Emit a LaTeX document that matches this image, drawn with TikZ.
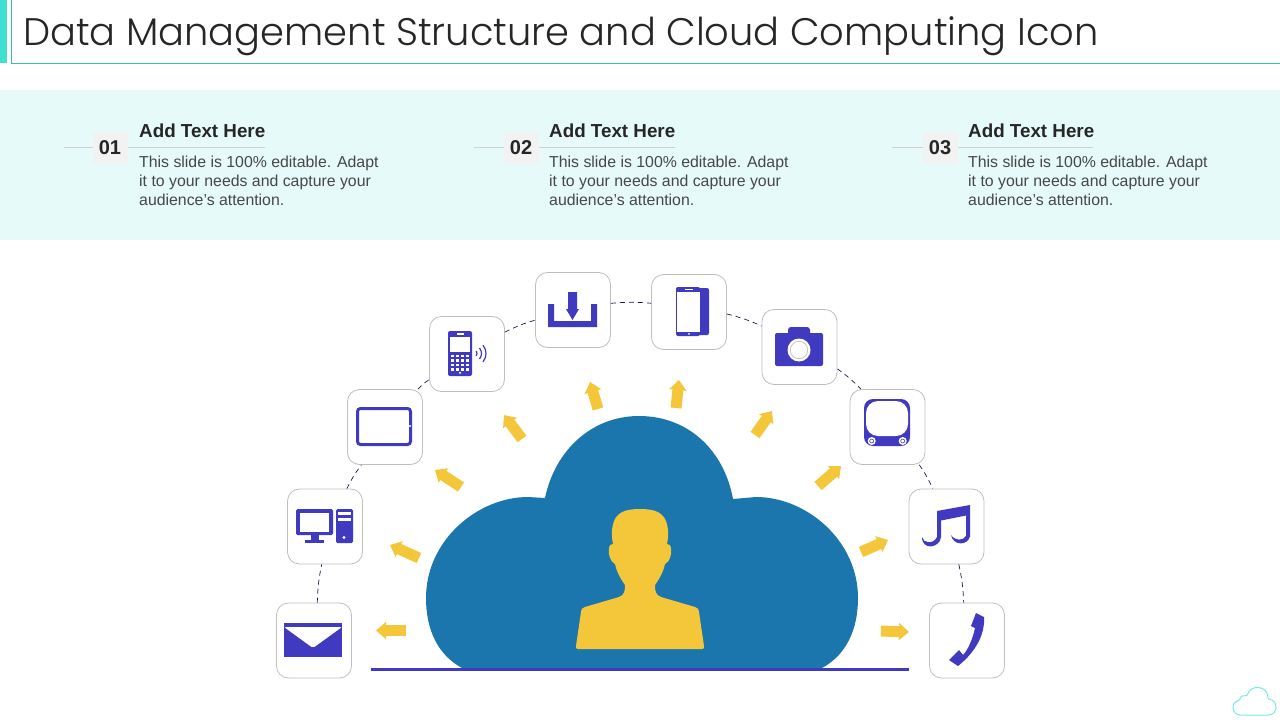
\documentclass[tikz,border=0pt]{standalone}
\usepackage{fontspec}
\setmainfont{Liberation Sans}
\newfontfamily\titlefont[UprightFont=* Light]{Poppins}
\usetikzlibrary{arrows.meta}
\definecolor{headbar}{HTML}{40E0D0}
\definecolor{band}{HTML}{E6FAF9}
\definecolor{cloudblue}{HTML}{1A76AD}
\definecolor{sun}{HTML}{F4C63A}
\definecolor{indigo}{HTML}{3F3ABF}
\tikzset{
  iconbox/.style={draw=black!25, fill=white, rounded corners=12pt, minimum width=75pt, minimum height=75pt, line width=0.8pt},
  dashlink/.style={draw=black!60!indigo, dash pattern=on 5pt off 4pt, line width=0.7pt},
  sunarrow/.style={draw=sun, line width=11pt, -{Stealth[width=17pt,length=10pt,inset=0.5pt]}},
  numbox/.style={fill=black!5, minimum width=35pt, minimum height=32pt, font=\bfseries\fontsize{20}{24}\selectfont, text=black!85},
  headtext/.style={anchor=west, inner sep=0pt, font=\bfseries\fontsize{18.8}{22}\selectfont, text=black!85},
  bodytext/.style={anchor=north west, inner sep=0pt, align=left, font=\fontsize{15.85}{19}\selectfont, text=black!72}
}
\begin{document}
\begin{tikzpicture}[yscale=-1, x=1pt, y=1pt]
    \useasboundingbox (0, 0) rectangle (1280, 720);
    % header
    \fill [headbar] (0, 0) rectangle (7, 63);
    \fill [headbar!85!black] (10.5, 0) rectangle (11.5, 63.5);
    \fill [headbar!85!black] (10.5, 63) rectangle (1280, 64);
    \node [anchor=base west, inner sep=0pt, text=black!85, font=\titlefont\fontsize{38.4}{46}\selectfont] (title) at (23, 45) {Data Management Structure and Cloud Computing Icon};
    % text band
    \fill [band] (0, 90) rectangle (1280, 240);
    \foreach \n/\xa/\xb/\xt in {01/64/110/139, 02/474/521/549, 03/892/940/968} {
        \coordinate (rulea\n) at (\xa, 147);
        \coordinate (ruleb\n) at (\xa+201, 147);
        \draw [black!18, line width=0.7pt] (rulea\n) -- (ruleb\n);
        \node [numbox] (num\n) at (\xb, 147.5) {\n};
        \node [headtext] (head\n) at (\xt, 131) {Add Text Here};
        \node [bodytext] (body\n) at (\xt, 156) {This slide is 100\% editable. Adapt\\it to your needs and capture your\\audience’s attention.};
    }
    % icon boxes
    \node [iconbox] (mail) at (314, 640.5) {};
    \node [iconbox] (desktop) at (325, 526.5) {};
    \node [iconbox] (tablet) at (385, 427) {};
    \node [iconbox] (mobile) at (467, 354) {};
    \node [iconbox] (download) at (573, 310) {};
    \node [iconbox] (smart) at (689, 312) {};
    \node [iconbox] (camera) at (799.5, 347) {};
    \node [iconbox] (screen) at (887.5, 427) {};
    \node [iconbox] (music) at (946.5, 526.5) {};
    \node [iconbox] (call) at (967, 640.5) {};
    % dashed arc
    \draw [dashlink] (mail.85) to [bend right=5] (desktop.-95);
    \draw [dashlink] (desktop.60) to [bend right=5] (tablet.-122);
    \draw [dashlink] (tablet.49) to [bend right=5] (mobile.214);
    \draw [dashlink] (mobile.30) to [bend right=5] (download.195);
    \draw [dashlink] (download.10) to [bend right=5] (smart.167);
    \draw [dashlink] (smart.-3) to [bend right=5] (camera.151);
    \draw [dashlink] (camera.-30) to [bend right=5] (screen.125);
    \draw [dashlink] (screen.-50) to [bend right=5] (music.110);
    \draw [dashlink] (music.-72) to [bend right=5] (call.95);
    % yellow arrows
    \foreach \xa/\ya/\xb/\yb in {406/630.5/376/630.5, 419/558/390/545, 461/487/435/470, 522/439/504/415, 598/409/590/382, 676/408/679/380, 755/435/772/411, 818/486/841/466, 861/552/888/540, 881/631/909/632} {
        \draw [sunarrow] (\xa, \ya) -- (\xb, \yb);
    }
    % cloud
    \fill [cloudblue] (462, 668) .. controls (438, 655) and (426, 630) .. (426, 598)
        .. controls (426, 540) and (478, 497) .. (528, 497) -- (545, 498)
        .. controls (555, 450) and (592, 416) .. (639, 416)
        .. controls (688, 416) and (724, 450) .. (733, 499) -- (756, 497)
        .. controls (806, 497) and (858, 540) .. (858, 598)
        .. controls (858, 630) and (846, 655) .. (822, 668) -- cycle;
    % ground line
    \draw [indigo, line width=3pt] (371, 669) -- (909, 669);
    % person
    \fill [sun, line join=round] (578, 649) .. controls (576, 649) and (576, 648) .. (576, 646)
        -- (581, 612) .. controls (581, 609) and (582, 608) .. (585, 607)
        -- (619, 597) .. controls (624, 595) and (625, 592) .. (625, 585)
        .. controls (620, 578) and (616, 570) .. (615, 564)
        .. controls (610, 562) and (608, 553) .. (609, 549)
        .. controls (609, 545) and (611, 544) .. (613, 544)
        .. controls (611, 535) and (612, 526) .. (614, 521)
        .. controls (618, 511) and (628, 509) .. (640, 509)
        .. controls (652, 509) and (662, 511) .. (666, 521)
        .. controls (668, 526) and (669, 535) .. (667, 544)
        .. controls (669, 544) and (671, 545) .. (671, 549)
        .. controls (672, 553) and (670, 562) .. (665, 564)
        .. controls (664, 570) and (660, 578) .. (655, 585)
        .. controls (655, 592) and (656, 595) .. (661, 597)
        -- (695, 607) .. controls (698, 608) and (699, 609) .. (699, 612)
        -- (704, 646) .. controls (704, 648) and (704, 649) .. (702, 649) -- cycle;
    % mail icon
    \fill [indigo] (284, 623) rectangle (342, 657);
    \fill [white, rounded corners=2pt] (284, 627) -- (342, 627) -- (313, 648) -- cycle;
    % desktop icon
    \fill [indigo, rounded corners=1.5pt] (296, 509) rectangle (333, 535);
    \fill [white] (300, 513) rectangle (329, 532);
    \fill [indigo] (311, 535) rectangle (319, 540);
    \fill [indigo] (305, 540) rectangle (324, 543);
    \fill [indigo, rounded corners=1.5pt] (336, 509) rectangle (353, 543);
    \fill [white] (338, 512) rectangle (351, 515);
    \fill [white] (338, 518) rectangle (351, 521);
    \fill [white] (344, 537.5) circle (1.6);
    % tablet icon
    \draw [indigo, line width=3pt, rounded corners=3pt] (357.5, 408.5) rectangle (410.5, 444.5);
    \fill [white] (410, 426) circle (1.2);
    % mobile icon
    \fill [indigo, rounded corners=2pt] (448, 331) rectangle (472, 376);
    \fill [white] (450, 337) rectangle (470, 352);
    \fill [white] (456.5, 333.3) rectangle (463.5, 334.7);
    \foreach \kx in {452.5, 457.5, 462.5, 467.5} {
        \foreach \ky in {356, 360.5, 365, 369.5} {
            \fill [white] (\kx-1.4, \ky-1.2) rectangle (\kx+1.4, \ky+1.2);
        }
    }
    \fill [white] (460, 372.8) circle (1.2);
    \foreach \r in {4, 8.5, 13} {
        \draw [indigo, line width=1.2pt] ({473+\r*cos(40)}, {353.5-\r*sin(40)}) arc (-40:40:\r);
    }
    % download icon
    \fill [indigo] (548, 304) -- (554, 304) -- (554, 321) -- (591, 321) -- (591, 304) -- (597, 304) -- (597, 327) -- (548, 327) -- cycle;
    \fill [indigo] (568, 292) -- (577, 292) -- (577, 309) -- (579, 309) -- (572.5, 320) -- (566, 309) -- (568, 309) -- cycle;
    % smartphone icon
    \fill [indigo, rounded corners=2pt] (695, 288) rectangle (709, 335);
    \fill [indigo, rounded corners=2pt] (676, 287) rectangle (700, 336);
    \fill [white] (677, 292) rectangle (700, 332);
    \fill [white] (685, 288.5) rectangle (693, 289.5);
    \fill [white] (689, 333.8) circle (1);
    % camera icon
    \fill [indigo, rounded corners=2pt] (775, 333) rectangle (823, 366);
    \fill [indigo, rounded corners=3pt] (788, 327) rectangle (810, 336);
    \fill [white] (799, 350) circle (11.5);
    \draw [black!25, line width=0.7pt] (799, 350) circle (8.7);
    % screen icon
    \fill [indigo, rounded corners=9pt] (864, 399) rectangle (910, 446);
    \fill [white, rounded corners=12pt] (866, 401) rectangle (908, 436);
    \foreach \bx in {871.7, 902.7} {
        \fill [white] (\bx, 441) circle (4);
        \draw [indigo, line width=0.6pt] (\bx, 441) circle (2);
    }
    % music icon
    \fill [indigo] (937, 511) -- (970, 505) -- (970, 537) -- (966, 537) -- (966, 515.5) -- (941, 520.5) -- (941, 537) -- (937, 537) -- cycle;
    \fill [indigo] (922, 537) .. controls (923, 543) and (933, 545) .. (937, 537) -- (941, 537)
        .. controls (940, 548) and (922, 551) .. (922, 537) -- cycle;
    \fill [indigo] (951, 535) .. controls (955, 541) and (963, 541) .. (966, 536) -- (970, 536)
        .. controls (968, 546) and (953, 546) .. (951, 535) -- cycle;
    % call icon
    \fill [indigo, line join=round] (976, 613) -- (984, 617)
        .. controls (985, 632) and (978, 650) .. (958, 666) -- (949, 660) -- (959, 650) -- (963, 655)
        .. controls (968, 650) and (973, 638) .. (975, 628) -- (971, 626) -- cycle;
    % small cloud
    \draw [headbar!70!white, line width=1pt, rounded corners=1pt] (1241, 715)
        .. controls (1233, 715) and (1229, 703) .. (1240, 700)
        .. controls (1240, 696) and (1244, 695) .. (1247, 696)
        .. controls (1250, 684) and (1268, 685) .. (1268, 699)
        .. controls (1278, 700) and (1279, 715) .. (1267, 715) -- cycle;
\end{tikzpicture}
\end{document}
